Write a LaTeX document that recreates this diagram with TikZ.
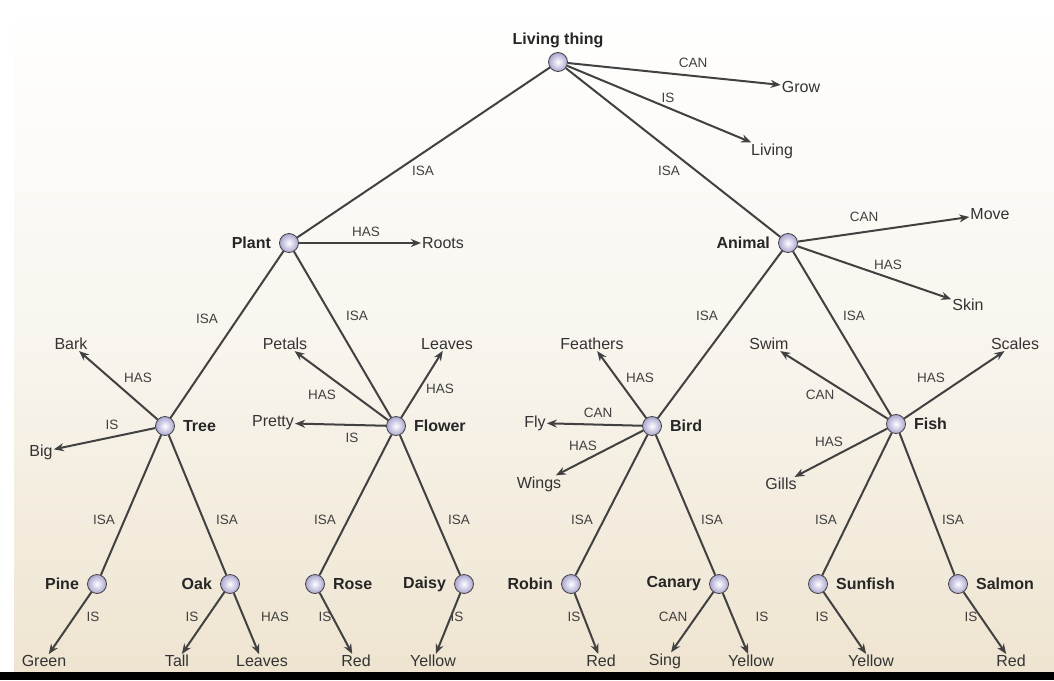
\documentclass[tikz,border=0pt]{standalone}
\usepackage{fontspec}
\setmainfont{Liberation Sans}
\usetikzlibrary{arrows.meta}
\definecolor{beige}{RGB}{238,228,208}
\definecolor{ln}{RGB}{65,65,65}
\begin{document}
\begin{tikzpicture}[x=1pt,y=-1pt,
  dot/.style={circle,draw=ln,line width=0.8pt,minimum size=19pt,inner sep=0pt,inner color=white,outer color={rgb,255:red,170;green,165;blue,208}},
  nm/.style={font=\bfseries\fontsize{16}{16}\selectfont,text=black!85,inner sep=1pt,label distance=7pt},
  att/.style={font=\fontsize{16}{16}\selectfont,text=black!80,inner sep=1pt},
  rel/.style={font=\fontsize{13.5}{13.5}\selectfont,text=black!75},
  con/.style={draw=ln,line width=2pt},
  arr/.style={con,-{Stealth[length=10pt,width=8pt]}}]
\useasboundingbox (0,0) rectangle (1054,680);
\fill[top color=white,bottom color=beige,middle color=white!65!beige] (14,0) rectangle (1054,672);
\fill[black] (0,672) rectangle (1054,680);
% nodes
\node[dot,label={[nm,label distance=3pt]above:Living thing}] (lt) at (558,62) {};
\node[dot,label={[nm]left:Plant}] (plant) at (289,243) {};
\node[dot,label={[nm]left:Animal}] (animal) at (788,243) {};
\node[dot,label={[nm]right:Tree}] (tree) at (165,426) {};
\node[dot,label={[nm]right:Flower}] (flower) at (396,426) {};
\node[dot,label={[nm]right:Bird}] (bird) at (652,426) {};
\node[dot,label={[nm]right:Fish}] (fish) at (896,424) {};
\node[dot,label={[nm]left:Pine}] (pine) at (97,584) {};
\node[dot,label={[nm]left:Oak}] (oak) at (230,584) {};
\node[dot,label={[nm]right:Rose}] (rose) at (315,584) {};
\node[dot,label={[nm]left:Daisy}] (daisy) at (464,584) {};
\node[dot,label={[nm]left:Robin}] (robin) at (571,584) {};
\node[dot,label={[nm]left:Canary}] (canary) at (719,584) {};
\node[dot,label={[nm]right:Sunfish}] (sunfish) at (818,584) {};
\node[dot,label={[nm]right:Salmon}] (salmon) at (958,584) {};
% ISA tree edges
\foreach \a/\b in {lt/plant,lt/animal,plant/tree,plant/flower,animal/bird,animal/fish,tree/pine,tree/oak,flower/rose,flower/daisy,bird/robin,bird/canary,fish/sunfish,fish/salmon}
  \draw[con] (\a) -- (\b);
% attributes
\foreach \n/\p/\t/\s in {grow/{(801,87)}/Grow/lt, living/{(772,151)}/Living/lt, roots/{(443,243)}/Roots/plant,
  move/{(990,214)}/Move/animal, skin/{(968,305)}/Skin/animal, bark/{(71,344)}/Bark/tree, big/{(41,452)}/Big/tree,
  petals/{(285,344)}/Petals/flower, pretty/{(273,423)}/Pretty/flower, leaves/{(447,344)}/Leaves/flower,
  feathers/{(592,344)}/Feathers/bird, fly/{(535,423)}/Fly/bird, wings/{(539,484)}/Wings/bird,
  swim/{(769,344)}/Swim/fish, scales/{(1015,344)}/Scales/fish, gills/{(781,484)}/Gills/fish,
  green/{(44,661)}/Green/pine, tall/{(177,661)}/Tall/oak, leaves2/{(262,661)}/Leaves/oak,
  red1/{(356,661)}/Red/rose, yel1/{(433,661)}/Yellow/daisy, red2/{(601,661)}/Red/robin,
  sing/{(665,661)}/Sing/canary, yel2/{(751,661)}/Yellow/canary, yel3/{(871,661)}/Yellow/sunfish,
  red3/{(1011,661)}/Red/salmon}
{ \node[att] (\n) at \p {\t}; \draw[arr] (\s) -- (\n); }
% relation labels
\foreach \p/\t in {{(693,63)}/CAN,{(668,98)}/IS,{(423,171)}/ISA,{(669,171)}/ISA,{(366,232)}/HAS,{(864,217)}/CAN,{(888,265)}/HAS,
  {(207,319)}/ISA,{(357,316)}/ISA,{(707,316)}/ISA,{(854,316)}/ISA,{(138,378)}/HAS,{(112,425)}/IS,{(322,395)}/HAS,{(352,438)}/IS,
  {(440,389)}/HAS,{(640,378)}/HAS,{(598,413)}/CAN,{(583,446)}/HAS,{(820,395)}/CAN,{(931,378)}/HAS,{(829,442)}/HAS,
  {(104,520)}/ISA,{(227,520)}/ISA,{(325,520)}/ISA,{(459,520)}/ISA,{(582,520)}/ISA,{(712,520)}/ISA,{(826,520)}/ISA,{(953,520)}/ISA,
  {(93,617)}/IS,{(192,617)}/IS,{(275,617)}/HAS,{(325,617)}/IS,{(457,617)}/IS,{(574,617)}/IS,{(673,617)}/CAN,{(762,617)}/IS,{(822,617)}/IS,{(971,617)}/IS}
  \node[rel] at \p {\t};
\end{tikzpicture}
\end{document}
